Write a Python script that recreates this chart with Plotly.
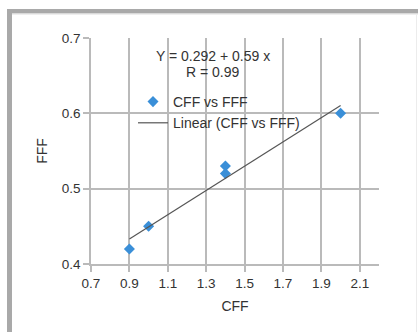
import numpy as np
import plotly.graph_objects as go

# Data
cff = [0.9, 1.0, 1.4, 1.4, 2.0]
fff = [0.42, 0.45, 0.52, 0.53, 0.60]
x_ticks = [0.7, 0.9, 1.1, 1.3, 1.5, 1.7, 1.9, 2.1]
y_ticks = [0.4, 0.5, 0.6, 0.7]
eq_text = "Y = 0.292 + 0.59 x"
r_text = "R = 0.99"

# Linear trendline from the data (least squares)
slope, intercept = np.polyfit(cff, fff, 1)
trend_x = [min(cff), max(cff)]
trend_y = [intercept + slope * v for v in trend_x]

W, H = 418, 332
ML, MR, MT, MB = 91, 39, 38, 68
PW, PH = W - ML - MR, H - MT - MB


def px(xp):
    return (xp - ML) / PW


def py(yp):
    return 1 - (yp - MT) / PH


text_color = "#333333"
grid_color = "#bababa"
FONT = "Liberation Sans, Arial, sans-serif"

fig = go.Figure()
fig.add_trace(go.Scatter(
    x=cff, y=fff, mode="markers", name="CFF vs FFF",
    marker=dict(symbol="diamond", size=8.5, color="#3a8fd8"),
))
fig.add_trace(go.Scatter(
    x=trend_x, y=trend_y, mode="lines", name="Linear (CFF vs FFF)",
    line=dict(color="#555555", width=1.2),
))

axis_common = dict(
    showgrid=True, gridcolor=grid_color, gridwidth=1.6,
    showline=True, linecolor=grid_color, linewidth=1.6,
    ticks="outside", ticklen=6, tickcolor=grid_color, tickwidth=1.6,
    tickfont=dict(size=13.5, color=text_color, family=FONT),
    zeroline=False,
)

fig.update_layout(
    width=W, height=H,
    margin=dict(l=ML, r=MR, t=MT, b=MB),
    paper_bgcolor="white", plot_bgcolor="white",
    font=dict(family=FONT, color=text_color, size=14),
    xaxis=dict(range=[0.7, 2.2], tickvals=x_ticks,
               ticktext=[f"{v:.1f}" for v in x_ticks],
               title=dict(text="CFF", font=dict(size=14, color=text_color), standoff=11),
               **axis_common),
    yaxis=dict(range=[0.4, 0.7], tickvals=y_ticks,
               ticktext=[f"{v:.1f}" for v in y_ticks],
               title=dict(text="FFF", font=dict(size=14, color=text_color), standoff=11),
               **axis_common),
    legend=dict(x=px(133), y=py(86), xanchor="left", yanchor="top",
                bgcolor="rgba(0,0,0,0)", font=dict(size=14, color=text_color),
                tracegroupgap=0),
    showlegend=True,
)

fig.add_annotation(text=eq_text, xref="paper", yref="paper", x=px(213), y=py(56),
                   showarrow=False, xanchor="center", yanchor="middle",
                   font=dict(size=14, color=text_color))
fig.add_annotation(text=r_text, xref="paper", yref="paper", x=px(213), y=py(72),
                   showarrow=False, xanchor="center", yanchor="middle",
                   font=dict(size=14, color=text_color))

# Outer gray frame (top and left bands)
fig.add_shape(type="rect", xref="paper", yref="paper", x0=px(7), x1=px(W + 2),
              y0=py(13.5), y1=py(9), fillcolor="#a9a9a9", line_width=0, layer="below")
fig.add_shape(type="rect", xref="paper", yref="paper", x0=px(7), x1=px(12),
              y0=py(H + 2), y1=py(9), fillcolor="#a9a9a9", line_width=0, layer="below")
fig.add_shape(type="rect", xref="paper", yref="paper", x0=px(12), x1=px(W + 2),
              y0=py(14.5), y1=py(13.5), fillcolor="#dedede", line_width=0, layer="below")
fig.add_shape(type="rect", xref="paper", yref="paper", x0=px(416), x1=px(417),
              y0=py(H + 2), y1=py(14.5), fillcolor="#ececec", line_width=0, layer="below")

fig.write_html("out.html", config={"displayModeBar": False},
               post_script="document.body.style.margin='0';")
